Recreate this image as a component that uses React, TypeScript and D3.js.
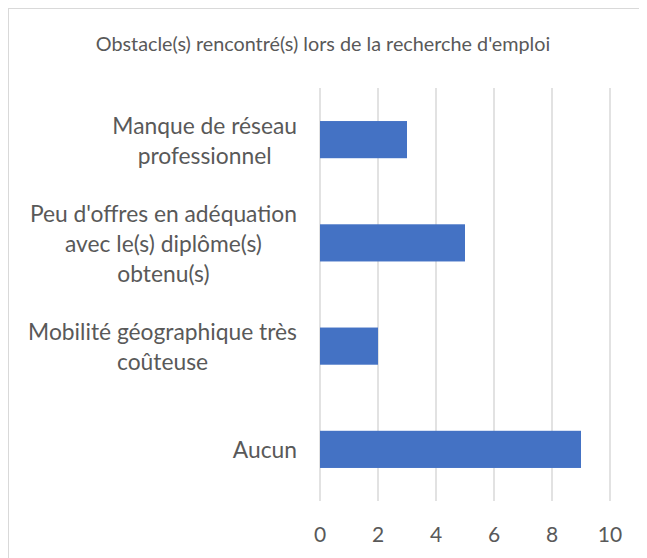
import React, { useEffect, useRef } from "react";
import * as d3 from "d3";

// categories, top to bottom, already broken into lines as in the chart
const categories = [
  ["Manque de réseau", "professionnel"],
  ["Peu d'offres en adéquation", "avec le(s) diplôme(s)", "obtenu(s)"],
  ["Mobilité géographique très", "coûteuse"],
  ["Aucun"],
];
const counts = [3, 5, 2, 9];
const xTicks = [0, 2, 4, 6, 8, 10];
const title = "Obstacle(s) rencontré(s) lors de la recherche d'emploi";

const FONT = "Lato, 'Open Sans', sans-serif";
const TEXT = "#595959";

const App = () => {
  const ref = useRef<SVGSVGElement | null>(null);

  useEffect(() => {
    const svg = d3.select(ref.current);
    svg.selectAll("*").remove();

    const width = 660;
    const height = 560;
    const margin = { top: 80, right: 58, bottom: 67, left: 312 };

    svg
      .append("rect")
      .attr("x", 0.5)
      .attr("y", 0.5)
      .attr("width", width)
      .attr("height", height)
      .attr("fill", "#fff")
      .attr("stroke", "#d9d9d9");

    const x = d3.scaleLinear().domain([0, 10]).range([margin.left, width - margin.right]);
    const y = d3
      .scaleBand<number>()
      .domain(d3.range(categories.length))
      .range([margin.top, height - margin.bottom])
      .paddingInner(0.64)
      .paddingOuter(0.32);

    // gridlines
    svg
      .append("g")
      .selectAll("line")
      .data(xTicks)
      .join("line")
      .attr("x1", (d) => x(d))
      .attr("x2", (d) => x(d))
      .attr("y1", margin.top)
      .attr("y2", height - margin.bottom)
      .attr("stroke", "#d9d9d9")
      .attr("stroke-width", 1.5);

    // bars
    svg
      .append("g")
      .selectAll("rect")
      .data(counts)
      .join("rect")
      .attr("x", x(0))
      .attr("y", (_, i) => y(i)!)
      .attr("width", (d) => x(d) - x(0))
      .attr("height", y.bandwidth())
      .attr("fill", "#4472c4");

    // tick labels
    svg
      .append("g")
      .selectAll("text")
      .data(xTicks)
      .join("text")
      .attr("x", (d) => x(d))
      .attr("y", height - margin.bottom + 32)
      .attr("text-anchor", "middle")
      .attr("dominant-baseline", "central")
      .attr("font-family", FONT)
      .attr("font-size", 21)
      .attr("fill", TEXT)
      .text((d) => d);

    // category labels: block right-aligned, lines centred inside it
    const lineH = 30;
    const rightEdge = margin.left - 23;
    categories.forEach((lines, i) => {
      const cy = y(i)! + y.bandwidth() / 2;
      const g = svg.append("g");
      const texts = g
        .selectAll("text")
        .data(lines)
        .join("text")
        .attr("y", (_, j) => cy + (j - (lines.length - 1) / 2) * lineH)
        .attr("text-anchor", "middle")
        .attr("dominant-baseline", "central")
        .attr("font-family", FONT)
        .attr("font-size", 22.8)
        .attr("fill", TEXT)
        .text((d) => d);
      const maxW = d3.max(texts.nodes(), (n) => (n as SVGTextElement).getComputedTextLength()) || 0;
      texts.attr("x", rightEdge - maxW / 2);
    });

    svg
      .append("text")
      .attr("x", 315)
      .attr("y", 35)
      .attr("text-anchor", "middle")
      .attr("dominant-baseline", "central")
      .attr("font-family", FONT)
      .attr("font-size", 19.8)
      .attr("fill", TEXT)
      .text(title);
  }, []);

  return <svg ref={ref} width={639} height={550} style={{ display: "block" }} />;
};

export default App;
